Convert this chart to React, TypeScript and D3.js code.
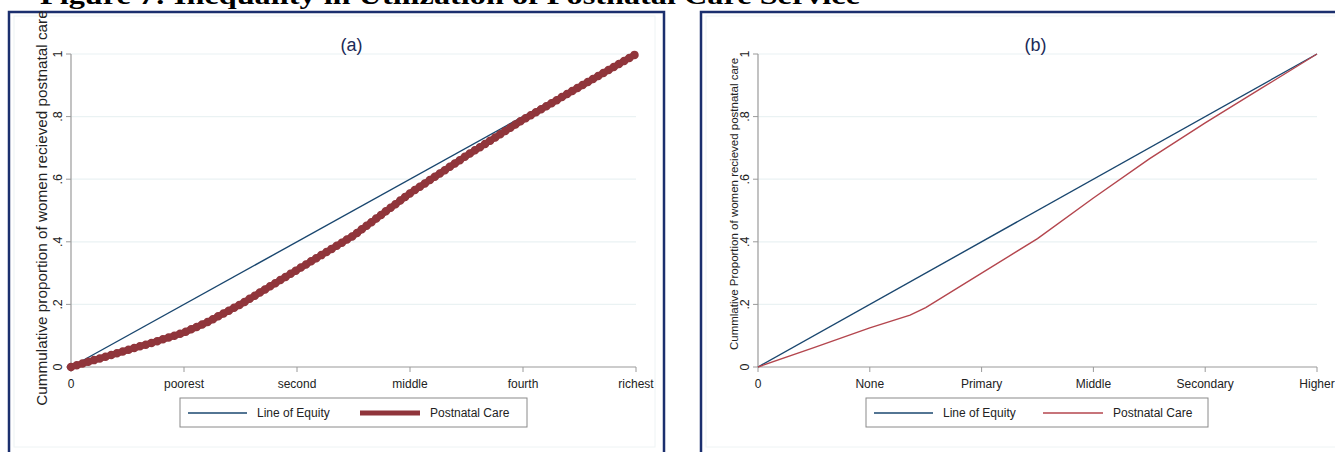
import React from "react";
import * as d3 from "d3";

const figureTitle = "Figure 7: Inequality in Utilization of Postnatal Care Service";

// Panel (a): wealth quintiles
const wealthTicks = ["0", "poorest", "second", "middle", "fourth", "richest"];
const wealthX = [0, 0.05, 0.1, 0.15, 0.2, 0.242, 0.3, 0.4, 0.5, 0.6, 0.7, 0.8, 0.9, 1];
const wealthCare = [0, 0.027, 0.054, 0.081, 0.11, 0.144, 0.2, 0.31, 0.42, 0.555, 0.675, 0.79, 0.895, 1];

// Panel (b): education
const eduTicks = ["0", "None", "Primary", "Middle", "Secondary", "Higher"];
const eduX = [0, 0.1, 0.2, 0.272, 0.3, 0.4, 0.5, 0.6, 0.7, 0.8, 0.9, 1];
const eduCare = [0, 0.062, 0.125, 0.166, 0.19, 0.3, 0.41, 0.54, 0.665, 0.78, 0.89, 1];

const equity = [0, 1];
const yTicks = [0, 0.2, 0.4, 0.6, 0.8, 1];
const yTickLabels = ["0", ".2", ".4", ".6", ".8", "1"];

const BLUE = "#1a476f";
const RED_A = "#90353b";
const RED_B = "#b4464e";
const NAVY = "#1b2f6e";
const GRID = "#eaf2f3";
const AXIS = "#9a9a9a";
const FONT = "Arial, 'Liberation Sans', sans-serif";

type PanelProps = {
  label: string;
  frameX: number;
  frameW: number;
  x0: number;
  x1: number;
  xs: number[];
  ys: number[];
  ticks: string[];
  yTitle: string;
  yTitleSize: number;
  yTitleX: number;
  yTitleY: number;
  redColor: string;
  thick: boolean;
  legendX: number;
  legendW: number;
  legendRedX: number;
};

function Panel(p: PanelProps) {
  const x = d3.scaleLinear().domain([0, 1]).range([p.x0, p.x1]);
  const y = d3.scaleLinear().domain([0, 1]).range([367, 54]);
  const line = d3
    .line<[number, number]>()
    .x((d) => x(d[0]))
    .y((d) => y(d[1]));
  const redPts: [number, number][] = p.xs.map((v, i) => [v, p.ys[i]]);
  const eqPts: [number, number][] = equity.map((v) => [v, v]);
  const redPath = line(redPts) || "";
  const eqPath = line(eqPts) || "";
  const tickPos = p.ticks.map((_, i) => i / (p.ticks.length - 1));
  const ly = 413;
  return (
    <g>
      <rect x={p.frameX} y={12} width={p.frameW} height={460} fill="white" stroke={NAVY} strokeWidth={2.5} />
      <rect x={p.frameX + 5} y={16} width={p.frameW - 14} height={431} fill="none" stroke="#eef3f4" strokeWidth={1} />
      {yTicks.slice(1).map((t) => (
        <line key={t} x1={x(0)} x2={x(1)} y1={y(t)} y2={y(t)} stroke={GRID} strokeWidth={1.2} />
      ))}
      <line x1={x(0)} x2={x(0)} y1={y(0)} y2={y(1)} stroke={AXIS} strokeWidth={1.2} />
      <line x1={x(0)} x2={x(1)} y1={y(0)} y2={y(0)} stroke={AXIS} strokeWidth={1.2} />
      {yTicks.map((t, i) => (
        <g key={t}>
          <line x1={x(0) - 5} x2={x(0)} y1={y(t)} y2={y(t)} stroke={AXIS} strokeWidth={1} />
          <text
            transform={`translate(${x(0) - 9},${y(t)}) rotate(-90)`}
            textAnchor="middle"
            fontSize={12.5}
            fontFamily={FONT}
            fill="#222"
          >
            {yTickLabels[i]}
          </text>
        </g>
      ))}
      {tickPos.map((t, i) => (
        <g key={i}>
          <line x1={x(t)} x2={x(t)} y1={y(0)} y2={y(0) + 5} stroke={AXIS} strokeWidth={1} />
          <text x={x(t)} y={388} textAnchor="middle" fontSize={12} fontFamily={FONT} fill="#222">
            {p.ticks[i]}
          </text>
        </g>
      ))}
      <path d={eqPath} fill="none" stroke={BLUE} strokeWidth={1.4} />
      {p.thick ? (
        <g>
          <path d={redPath} fill="none" stroke={p.redColor} strokeWidth={6.5} strokeLinejoin="round" />
          <path d={redPath} fill="none" stroke={p.redColor} strokeWidth={8.5} strokeLinecap="round" strokeDasharray="0 6" />
        </g>
      ) : (
        <path d={redPath} fill="none" stroke={p.redColor} strokeWidth={1.4} />
      )}
      <text x={(p.x0 + p.x1) / 2 - 2} y={51} textAnchor="middle" fontSize={18} fontFamily={FONT} fill="#1b2a58">
        {p.label}
      </text>
      <text
        transform={`translate(${p.yTitleX},${p.yTitleY}) rotate(-90)`}
        textAnchor="middle"
        fontSize={p.yTitleSize}
        fontFamily={FONT}
        fill="#222"
      >
        {p.yTitle}
      </text>
      <rect x={p.legendX} y={398} width={p.legendW} height={29} fill="white" stroke="#8a8a8a" strokeWidth={1} />
      <line x1={p.legendX + 8} x2={p.legendX + 67} y1={ly} y2={ly} stroke={BLUE} strokeWidth={1.4} />
      <text x={p.legendX + 77} y={417} fontSize={12} fontFamily={FONT} fill="#222">
        Line of Equity
      </text>
      <line
        x1={p.legendRedX}
        x2={p.legendRedX + 60}
        y1={ly}
        y2={ly}
        stroke={p.redColor}
        strokeWidth={p.thick ? 5 : 1.4}
      />
      <text x={p.legendRedX + 70} y={417} fontSize={12} fontFamily={FONT} fill="#222">
        Postnatal Care
      </text>
    </g>
  );
}

export default function App() {
  return (
    <svg
      width={1335}
      height={452}
      style={{ position: "absolute", left: 0, top: 0, background: "white" }}
    >
      <Panel
        label="(a)"
        frameX={9}
        frameW={655}
        x0={71}
        x1={636}
        xs={wealthX}
        ys={wealthCare}
        ticks={wealthTicks}
        yTitle="Cummulative proportion of women recieved postnatal care"
        yTitleSize={15.3}
        yTitleX={47}
        yTitleY={208}
        redColor={RED_A}
        thick={true}
        legendX={180}
        legendW={347}
        legendRedX={360}
      />
      <Panel
        label="(b)"
        frameX={701}
        frameW={660}
        x0={758}
        x1={1317}
        xs={eduX}
        ys={eduCare}
        ticks={eduTicks}
        yTitle="Cummlative Proportion of women recieved postnatal care"
        yTitleSize={11.5}
        yTitleX={738}
        yTitleY={204}
        redColor={RED_B}
        thick={false}
        legendX={866}
        legendW={342}
        legendRedX={1043}
      />
      <text
        x={40}
        y={4}
        fontSize={26}
        fontWeight="bold"
        fontFamily="'Liberation Serif', 'Times New Roman', serif"
        fill="#000"
        textLength={820}
        lengthAdjust="spacingAndGlyphs"
      >
        {figureTitle}
      </text>
    </svg>
  );
}
